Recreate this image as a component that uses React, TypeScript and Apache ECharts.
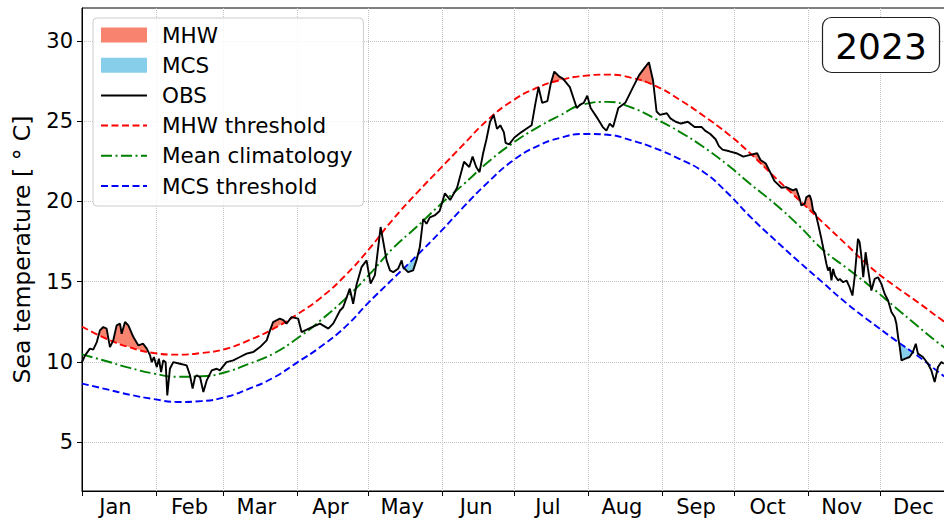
import React, { useEffect, useRef } from 'react';
import * as echarts from 'echarts';

const FONT = 'DejaVu Sans';

const MONTHS = ['Jan', 'Feb', 'Mar', 'Apr', 'May', 'Jun', 'Jul', 'Aug', 'Sep', 'Oct', 'Nov', 'Dec'];
const MONTH_START = [0, 31, 59, 90, 120, 151, 181, 212, 243, 273, 304, 334];
const MONTH_MID = [14, 45, 73, 104, 134, 165, 195, 226, 257, 287, 318, 348];
const Y_TICKS = [5, 10, 15, 20, 25, 30];

// Climatology curves, day-of-year index (0 = 1 Jan)
const CLIM_DAY = [0, 10, 20, 30, 40, 50, 60, 70, 80, 90, 100, 110, 120, 130, 140, 150, 160, 170, 180, 190,
  200, 210, 220, 230, 240, 250, 260, 270, 280, 290, 300, 310, 320, 330, 340, 350, 360, 364];
const MHW_THRESH = [12.2, 11.45, 10.9, 10.55, 10.45, 10.55, 10.8, 11.35, 12.05, 12.95, 14.0, 15.35, 17.0, 18.85,
  20.5, 22.05, 23.6, 25.1, 26.25, 27.05, 27.55, 27.82, 27.9, 27.7, 27.2, 26.35, 25.35, 24.25, 22.95, 21.5,
  20.1, 18.7, 17.3, 15.9, 14.75, 13.7, 12.6, 12.2];
const CLIM_MEAN = [10.46, 10.05, 9.62, 9.27, 9.07, 9.1, 9.35, 9.88, 10.5, 11.45, 12.6, 13.9, 15.4, 17.05,
  18.4, 19.8, 21.1, 22.45, 23.6, 24.55, 25.35, 26.05, 26.2, 25.85, 25.15, 24.35, 23.4, 22.3, 21.05, 19.85,
  18.5, 17.0, 15.85, 14.7, 13.45, 12.2, 11.0, 10.6];
const MCS_THRESH = [8.64, 8.3, 7.95, 7.68, 7.5, 7.55, 7.8, 8.33, 9.0, 9.95, 10.95, 12.15, 13.7, 15.15,
  16.6, 18.1, 19.7, 21.2, 22.5, 23.4, 23.95, 24.2, 24.15, 23.8, 23.3, 22.65, 21.85, 20.55, 19.0, 17.6,
  16.25, 14.95, 13.65, 12.5, 11.4, 10.35, 9.2, 8.8];

// Observed sea temperature 2023
const OBS_DAY = [0, 1.3, 3.3, 4.7, 6.2, 7.5, 8.9, 10.3, 11.7, 13.1, 14.5, 15.9, 16.6, 18, 19.4, 21.5, 23.6, 25.6,
  27.1, 28.5, 29.2, 30.1, 31.3, 32.2, 33.1, 34, 35, 35.7, 36.8, 38.2, 41, 43.8, 45.2, 46.3, 47.3, 48, 49.4, 50.8,
  52.2, 54.3, 56.4, 57.7, 60.5, 63.3, 66.1, 68.9, 71.7, 74.5, 77.3, 78.7, 80, 82.8, 84.3, 85.6, 87.7, 90.5,
  91.9, 95.4, 99.6, 103.1, 105.2, 108, 109.3, 112.1, 113.5, 114.9, 117, 119.1, 120.8, 122.6, 125, 127.5,
  128.9, 130.3, 132.3, 133.8, 134.4, 136.5, 138.6, 140, 141.4, 142.8, 144.2, 145.6, 147.6, 149.7, 151.9,
  154.1, 157, 159.9, 162.1, 163.5, 165, 166.4, 167.9, 169.3, 170.8, 172.3, 173.7, 175.1, 176.6, 177.3,
  178.8, 181, 183.8, 186, 188.2, 189.7, 191.1, 192.6, 194.8, 196.2, 197.7, 199.8, 201.3, 204.2, 207.1,
  208.5, 210, 211.5, 212.9, 215.8, 218, 219.5, 220.9, 222.3, 224.5, 227.4, 230.3, 233.2, 235.4, 237.3,
  239, 240.5, 241.9, 244.8, 246.3, 248.5, 250.7, 253.6, 256.4, 259.4, 260.8, 263, 265.2, 266.6, 268.1,
  271, 273.9, 276.8, 279.7, 282.6, 284, 286.2, 288.4, 289.8, 292.8, 294.8, 297.6, 299, 300.4, 301.1,
  302.5, 303.2, 304.6, 305.3, 306, 307.1, 308.1, 309.5, 310.2, 311.6, 312.3, 313, 313.7, 314.4, 315.1,
  316.5, 317.2, 318.6, 320, 321.3, 322.5, 323.4, 324.8, 325.5, 326.2, 327, 327.6, 328, 329, 330.4, 331.8,
  333.2, 334.6, 336, 337.4, 338.8, 340.2, 340.9, 341.6, 342.3, 343, 344.4, 346.4, 347.8, 349, 349.9, 352,
  354.1, 355.5, 356.9, 358.3, 359.7, 360.7];
const OBS_TEMP = [9.98, 10.4, 10.82, 10.76, 11.23, 11.96, 12.17, 12.07, 10.92, 11.34, 12.27, 12.38, 11.75, 12.48,
  12.27, 11.54, 11.02, 11.13, 10.82, 10.4, 9.98, 10.3, 9.67, 10.2, 9.36, 10.09, 9.98, 7.91, 9.57, 9.98, 9.88,
  9.78, 9.16, 8.33, 9.05, 9.16, 9.05, 8.12, 8.84, 9.47, 9.57, 9.47, 9.98, 10.09, 10.3, 10.51, 10.61, 10.92,
  11.34, 11.96, 12.48, 12.69, 12.6, 12.38, 12.79, 12.69, 11.85, 12.1, 12.38, 12.07, 12.4, 13.2, 13.4, 14.56,
  13.62, 14.8, 15.9, 16.32, 14.87, 15.4, 18.4, 16.32, 15.7, 15.59, 15.8, 16.32, 15.9, 15.59, 15.7, 16.32,
  17.15, 18.9, 18.6, 19.0, 19.12, 19.4, 20.5, 20.09, 20.85, 22.47, 22.14, 22.79, 22.14, 21.82, 23.0, 23.87,
  24.96, 25.39, 24.52, 24.74, 24.3, 23.65, 23.55, 23.98, 24.3, 24.52, 24.74, 26.03, 27.12, 26.14, 26.25,
  27.33, 28.09, 27.77, 27.65, 27.12, 25.82, 26.03, 26.14, 26.58, 25.82, 25.17, 24.63, 24.41, 24.85, 24.63,
  25.82, 26.14, 27.01, 27.87, 28.3, 28.67, 27.55, 25.6, 25.39, 25.49, 25.17, 24.96, 24.85, 24.96, 24.63,
  24.63, 24.41, 24.2, 23.87, 23.44, 23.22, 23.12, 23.0, 22.79, 22.9, 23.0, 22.58, 22.36, 21.71, 21.28,
  20.85, 20.89, 20.68, 20.78, 20.16, 19.74, 19.85, 20.26, 20.37, 20.06, 19.43, 19.22, 18.6, 17.66, 17.14,
  16.1, 15.69, 15.9, 15.07, 15.79, 15.38, 15.07, 15.17, 14.96, 15.07, 14.65, 14.13, 15.27, 17.66, 17.45,
  16.62, 15.27, 16.1, 16.83, 15.79, 14.44, 15.17, 15.27, 14.86, 14.23, 13.82, 13.1, 12.78, 12.37, 11.54,
  10.92, 10.09, 10.19, 10.3, 10.61, 11.13, 10.51, 10.3, 9.88, 9.47, 8.74, 9.68, 9.99, 9.88];

// Detected events (day windows)
const MHW_EVENTS = [[5, 28], [78, 89], [189, 205], [229, 241], [276, 289], [292, 308]];
const MCS_EVENTS = [[130, 142], [340, 351]];

const SALMON = '#f8836f';
const SKYBLUE = '#87ceeb';

function thrAt(vals: number[], d: number) {
  for (let i = 1; i < CLIM_DAY.length; i++) {
    if (d <= CLIM_DAY[i]) {
      const f = (d - CLIM_DAY[i - 1]) / (CLIM_DAY[i] - CLIM_DAY[i - 1]);
      return vals[i - 1] + f * (vals[i] - vals[i - 1]);
    }
  }
  return vals[vals.length - 1];
}

function buildFills(events: number[][], thr: number[], sign: number) {
  const polys: number[][][] = [];
  for (const [s, e] of events) {
    let top: number[][] = [];
    let bot: number[][] = [];
    let prev: { d: number; v: number; x: number } | null = null;
    for (let i = 0; i < OBS_DAY.length; i++) {
      const d = OBS_DAY[i];
      if (d < s || d > e) continue;
      const v = OBS_TEMP[i];
      const t = thrAt(thr, d);
      const x = sign * (v - t);
      if (prev && (prev.x > 0) !== (x > 0)) {
        const f = prev.x / (prev.x - x);
        const cd = prev.d + f * (d - prev.d);
        const cv = prev.v + f * (v - prev.v);
        top.push([cd, cv]);
        bot.push([cd, cv]);
        if (!(x > 0)) {
          polys.push(top.concat(bot.slice().reverse()));
          top = [];
          bot = [];
        }
      }
      if (x > 0) {
        top.push([d, v]);
        bot.push([d, t]);
      }
      prev = { d, v, x };
    }
    if (top.length > 1) polys.push(top.concat(bot.slice().reverse()));
  }
  return polys;
}

function fillSeries(name: string, polys: number[][][], color: string) {
  return {
    name,
    type: 'custom',
    coordinateSystem: 'cartesian2d',
    clip: true,
    z: 1,
    itemStyle: { color },
    encode: { x: 0, y: 1 },
    data: polys.map((p) => p[0]),
    renderItem: (params: any, api: any) => {
      const poly = polys[params.dataIndex];
      return {
        type: 'polygon',
        shape: { points: poly.map((p) => api.coord(p)) },
        style: { fill: color, stroke: null },
      };
    },
  };
}

function lineSeries(name: string, data: number[][], color: string, type: any, z: number, smooth: boolean) {
  return {
    name, type: 'line', data, smooth, symbol: 'none', z,
    itemStyle: { color, opacity: 0 },
    lineStyle: { color, width: 1.9, type },
  };
}

export default function App() {
  const ref = useRef<HTMLDivElement>(null);
  useEffect(() => {
    if (!ref.current) return;
    const chart = echarts.init(ref.current, null, { renderer: 'svg' });
    const obs = OBS_DAY.map((d, i) => [d, OBS_TEMP[i]]);
    const mhw = CLIM_DAY.map((d, i) => [d, MHW_THRESH[i]]);
    const clim = CLIM_DAY.map((d, i) => [d, CLIM_MEAN[i]]);
    const mcs = CLIM_DAY.map((d, i) => [d, MCS_THRESH[i]]);
    const mhwPolys = buildFills(MHW_EVENTS, MHW_THRESH, 1);
    const mcsPolys = buildFills(MCS_EVENTS, MCS_THRESH, -1);
    const axisFont = { fontFamily: FONT, fontSize: 21, color: '#000' };
    const gridLine = { show: true, lineStyle: { color: '#c4c4c4', type: 'dotted', width: 1 } };

    chart.setOption({
      animation: false,
      backgroundColor: '#ffffff',
      textStyle: { fontFamily: FONT },
      grid: {
        left: 82, top: 8, right: -10, bottom: 31,
        containLabel: false, outerBoundsMode: 'none',
        show: true, borderColor: '#000', borderWidth: 1, backgroundColor: 'transparent',
      },
      xAxis: {
        type: 'value', min: 0, max: 365,
        axisLine: { show: true, onZero: false, lineStyle: { color: '#000', width: 1 } },
        axisTick: { show: true, length: 5, customValues: MONTH_START, lineStyle: { color: '#000', width: 1 } },
        axisLabel: {
          ...axisFont, margin: 5, customValues: MONTH_MID,
          formatter: (v: number) => MONTHS[MONTH_MID.indexOf(Math.round(v))] || '',
        },
        splitLine: gridLine,
      },
      yAxis: {
        type: 'value', min: 1.95, max: 32.05,
        axisLine: { show: true, onZero: false, lineStyle: { color: '#000', width: 1 } },
        axisTick: { show: true, length: 5, customValues: Y_TICKS, lineStyle: { color: '#000', width: 1 } },
        axisLabel: { ...axisFont, margin: 9, customValues: Y_TICKS },
        splitLine: gridLine,
        name: 'Sea temperature [ ° C]',
        nameLocation: 'middle',
        nameGap: 48,
        nameTextStyle: { fontFamily: FONT, fontSize: 23.5, color: '#000' },
      },
      legend: {
        orient: 'vertical', left: 93, top: 18,
        itemWidth: 46, itemHeight: 15, itemGap: 8.2,
        padding: [6, 11, 9, 7],
        backgroundColor: 'rgba(255,255,255,0.85)',
        borderColor: '#cccccc', borderWidth: 1, borderRadius: 4,
        selectedMode: false,
        textStyle: { fontFamily: FONT, fontSize: 21.5, color: '#000', padding: [0, 0, 0, 10] },
        data: [
          { name: 'MHW', icon: 'rect', itemStyle: { color: SALMON, opacity: 1 } },
          { name: 'MCS', icon: 'rect', itemStyle: { color: SKYBLUE, opacity: 1 } },
          'OBS', 'MHW threshold', 'Mean climatology', 'MCS threshold',
        ],
      },
      graphic: [
        {
          type: 'rect', x: 822.5, y: 17.5, z: 100,
          shape: { x: 0, y: 0, width: 117, height: 55, r: 9 },
          style: { fill: '#ffffff', stroke: '#222222', lineWidth: 1.2 },
        },
        {
          type: 'text', x: 881, y: 46, z: 101,
          style: { text: '2023', fontSize: 36, fontFamily: FONT, fill: '#000', align: 'center', verticalAlign: 'middle' },
        },
      ],
      series: [
        fillSeries('MHW', mhwPolys, SALMON),
        fillSeries('MCS', mcsPolys, SKYBLUE),
        lineSeries('MHW threshold', mhw, '#ff0000', [7, 3.5], 3, true),
        lineSeries('Mean climatology', clim, '#008000', [11, 3.5, 2, 3.5], 3, true),
        lineSeries('MCS threshold', mcs, '#0000ff', [7, 3.5], 3, true),
        lineSeries('OBS', obs, '#000000', 'solid', 4, false),
      ],
    });
    return () => chart.dispose();
  }, []);
  return (
    <div
      ref={ref}
      style={{ position: 'fixed', left: 0, top: 0, width: 944, height: 522, background: '#fff' }}
    />
  );
}
